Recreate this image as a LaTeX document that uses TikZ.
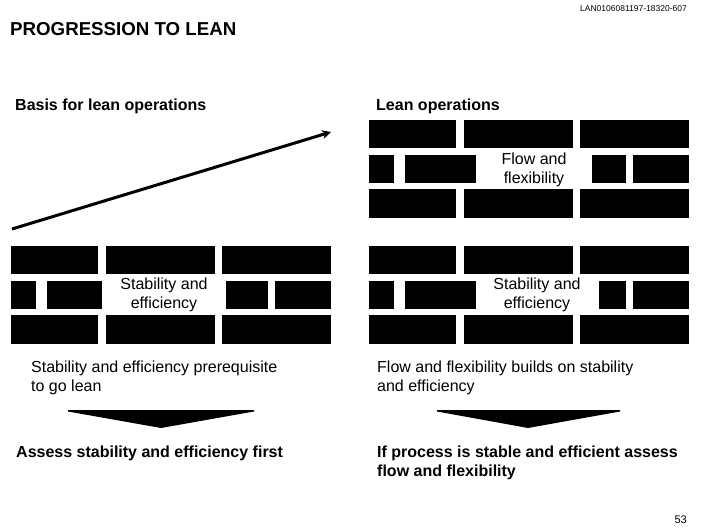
\documentclass[tikz,border=0pt]{standalone}
\usepackage{fontspec}
\setmainfont{Liberation Sans}
\usetikzlibrary{arrows, arrows.meta}
\usetikzlibrary{positioning}

\tikzset{
    heading/.style    = {font=\bfseries\fontsize{16}{19}\selectfont, inner sep=0pt, anchor=base west},
    body/.style       = {font=\fontsize{16}{19}\selectfont, inner sep=0pt, anchor=base west, align=left},
    conclusion/.style = {body, font=\bfseries\fontsize{16}{19}\selectfont},
    walllabel/.style  = {font=\fontsize{16}{18.5}\selectfont, inner sep=0pt, align=center},
    small/.style      = {inner sep=0pt, anchor=base east},
    brick/.style      = {fill=black},
    chevron/.style    = {fill=black},
}

\begin{document}
\begin{tikzpicture}[x=1pt, y=-1pt]

    \useasboundingbox (0,0) rectangle (706,529);

    % wall: left, top, end of 2nd middle brick, start of 3rd middle brick
    \def\brickwall#1#2#3#4{%
        \begin{scope}[shift={(#1,#2)}]
            \foreach \ytop/\ybot in {0/28, 69/98} {
                \fill[brick] (0,\ytop) rectangle (87,\ybot);
                \fill[brick] (95,\ytop) rectangle (204,\ybot);
                \fill[brick] (211,\ytop) rectangle (320,\ybot);
            }
            \fill[brick] (0,35) rectangle (25,63);
            \fill[brick] (36,35) rectangle (#3,63);
            \fill[brick] (#4,35) rectangle (257,63);
            \fill[brick] (264,35) rectangle (320,63);
        \end{scope}}

    \node[small, font=\fontsize{8.5}{10}\selectfont] (docid) at (687,12) {LAN0106081197-18320-607};
    \node[anchor=base west, inner sep=0pt, font=\bfseries\fontsize{18.7}{22}\selectfont]
        (title) at (10,36) {PROGRESSION TO LEAN};

    \node[heading] (basis) at (15,111) {Basis for lean operations};
    \node[heading] (lean) at (376,111) {Lean operations};

    \coordinate (rise) at (12,229);
    \coordinate (goal) at (331,132);
    \draw[line width=3pt, -{Stealth[length=9pt, width=9pt]}] (rise) -- (goal);

    \brickwall{11}{246}{91}{215}
    \brickwall{369}{120}{107}{223}
    \brickwall{369}{246}{107}{230}

    \node[walllabel] (stabL) at (164,295) {Stability and\\efficiency};
    \node[walllabel] (flowR) at (534,170) {Flow and\\flexibility};
    \node[walllabel] (stabR) at (537,295) {Stability and\\efficiency};

    % multi-line nodes sit on the baseline of their last line
    \node[body] (prereq) at (31,391) {Stability and efficiency prerequisite\\to go lean};
    \node[body] (builds) at (377,391) {Flow and flexibility builds on stability\\and efficiency};

    \fill[chevron] (68,410) -- (254,410) -- (254,411.5) -- (161,428) -- (68,411.5) -- cycle;
    \fill[chevron] (437,410) -- (620,410) -- (620,411.5) -- (528,428) -- (437,411.5) -- cycle;

    \node[conclusion] (assess) at (16,457) {Assess stability and efficiency first};
    \node[conclusion] (ifstable) at (377,476) {If process is stable and efficient assess\\flow and flexibility};

    \node[small, font=\fontsize{11}{13}\selectfont] (page) at (687,523) {53};

\end{tikzpicture}
\end{document}
